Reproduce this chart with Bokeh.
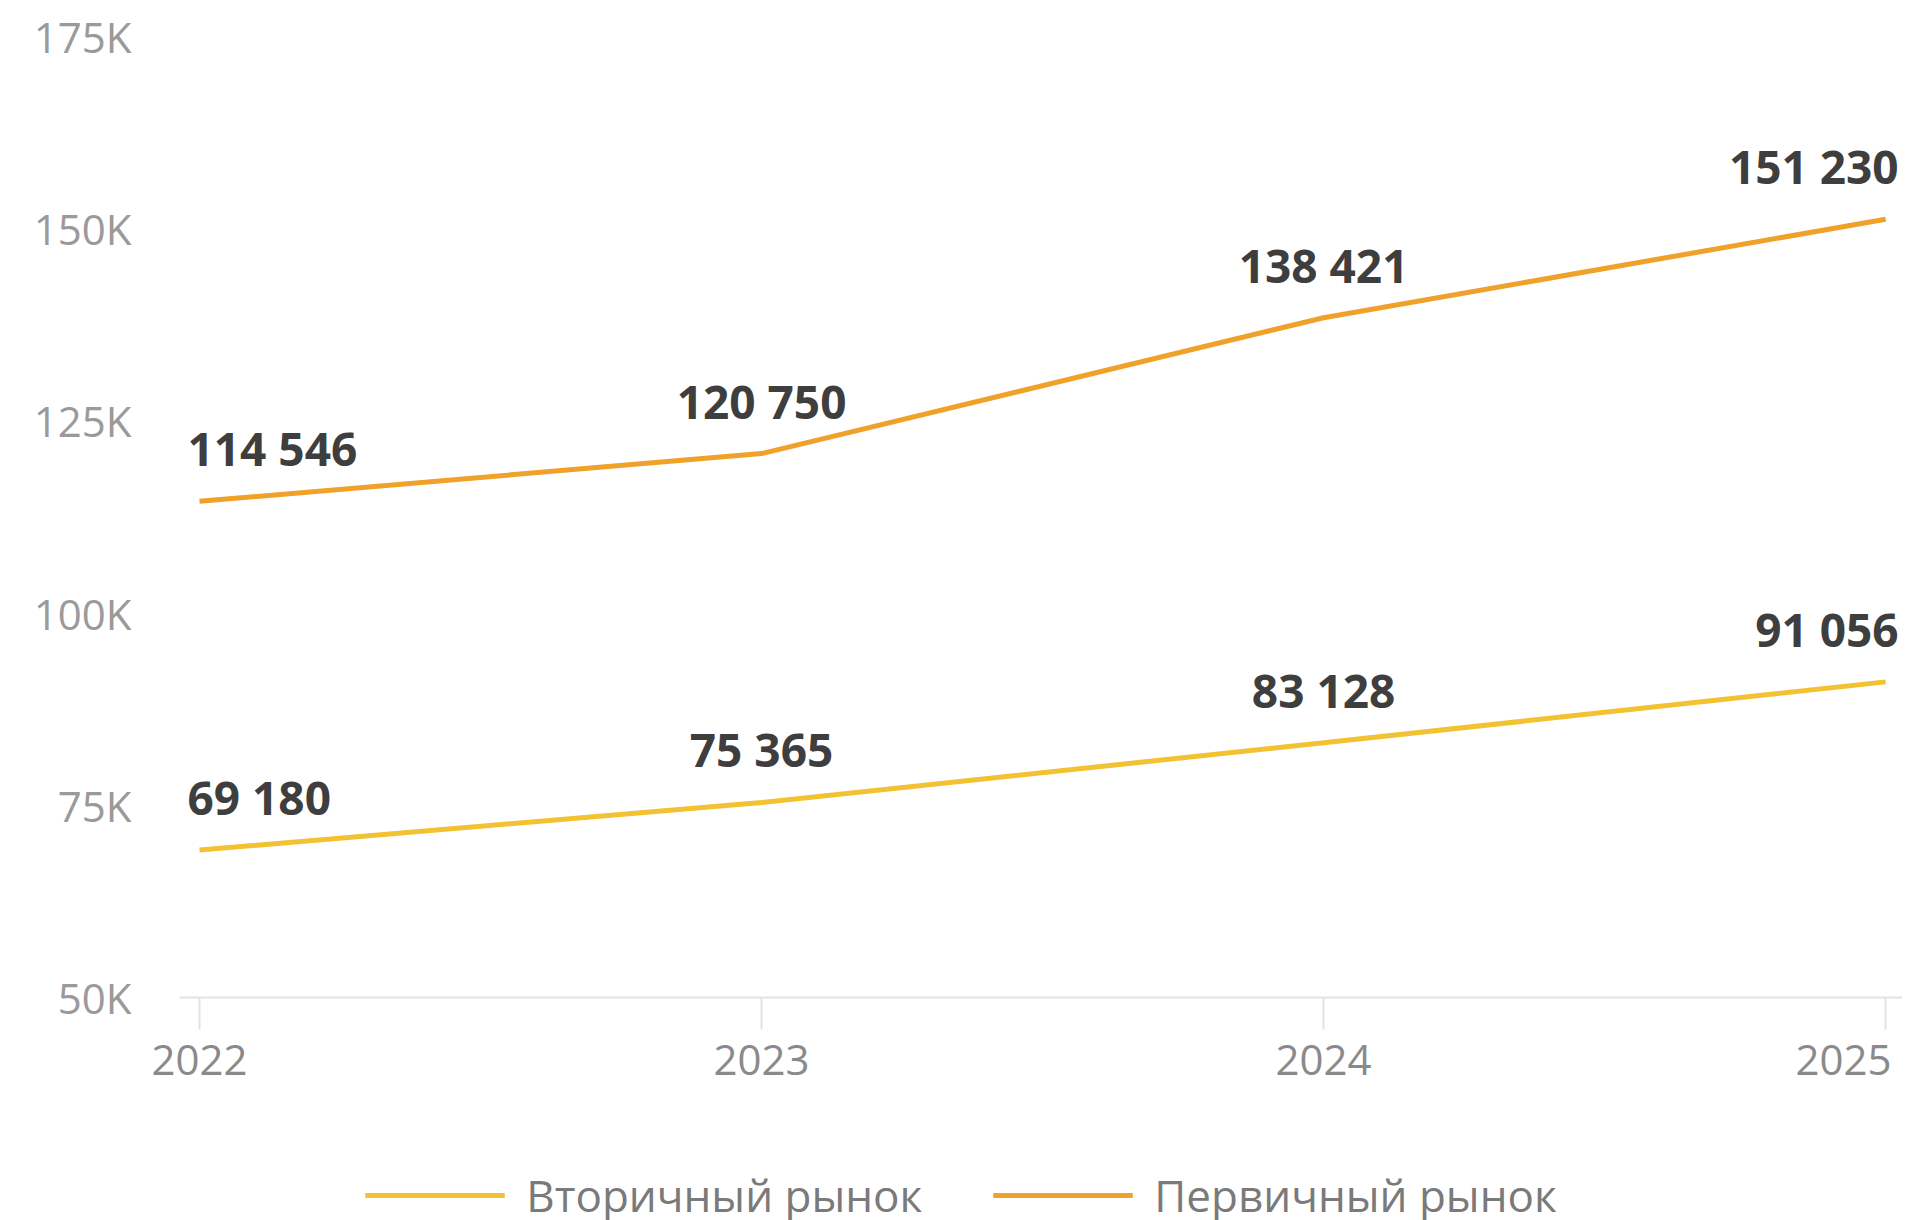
from bokeh.plotting import figure
from bokeh.layouts import column
from bokeh.models import (Range1d, Legend, LegendItem, LabelSet,
                          ColumnDataSource, FixedTicker)
from bokeh.embed import file_html
from bokeh.resources import INLINE
from bokeh.core.properties import value

# ---- data ----
years = [2022, 2023, 2024, 2025]
secondary = [69180, 75365, 83128, 91056]      # Вторичный рынок
primary = [114546, 120750, 138421, 151230]    # Первичный рынок
series_names = ["Вторичный рынок", "Первичный рынок"]
y_ticks = [50000, 75000, 100000, 125000, 150000, 175000]
y_tick_labels = ["50K", "75K", "100K", "125K", "150K", "175K"]
x_tick_labels = ["2022", "2023", "2024", "2025"]

FONT = "Open Sans"
C_SEC = "#F3C232"
C_PRI = "#EFA12A"

PAD_L = 0.0356   # range padding (years) left of first point
PAD_R = 0.030    # range padding (years) right of last point

p = figure(frame_width=1723, frame_height=961,
           min_border_left=179, min_border_right=0,
           min_border_top=36, min_border_bottom=148,
           x_range=Range1d(years[0] - PAD_L, years[-1] + PAD_R),
           y_range=Range1d(y_ticks[0], y_ticks[-1]),
           output_backend="svg", toolbar_location=None,
           background_fill_color="white", border_fill_color="white")
p.outline_line_color = None
p.grid.visible = False

# y axis
p.yaxis.ticker = FixedTicker(ticks=y_ticks)
p.yaxis.major_label_overrides = {t: l for t, l in zip(y_ticks, y_tick_labels)}
p.yaxis.axis_line_color = None
p.yaxis.major_tick_line_color = None
p.yaxis.minor_tick_line_color = None
p.yaxis.major_label_standoff = 42
p.yaxis.major_label_text_font = FONT
p.yaxis.major_label_text_font_size = "42px"
p.yaxis.major_label_text_color = "#9a9a9a"

# x axis
p.xaxis.ticker = FixedTicker(ticks=years)
overrides = {y: l for y, l in zip(years, x_tick_labels)}
# last label is nudged left so it stays inside the page
overrides[years[-1]] = x_tick_labels[-1] + "\u00a0"
p.xaxis.major_label_overrides = overrides
p.xaxis.axis_line_color = "#e3e3e3"
p.xaxis.axis_line_width = 2
p.xaxis.major_tick_line_color = "#e3e3e3"
p.xaxis.major_tick_line_width = 2
p.xaxis.major_tick_out = 32
p.xaxis.major_tick_in = 0
p.xaxis.minor_tick_line_color = None
p.xaxis.major_label_standoff = 0
p.xaxis.major_label_text_font = FONT
p.xaxis.major_label_text_font_size = "42px"
p.xaxis.major_label_text_color = "#8a8a8a"

p.line(years, secondary, line_color=C_SEC, line_width=5)
p.line(years, primary, line_color=C_PRI, line_width=5)


def fmt(v):
    return f"{v:,}".replace(",", " ")


n = len(years)
aligns = ["left"] + ["center"] * (n - 2) + ["right"]
xoffs = [-12] + [0] * (n - 2) + [13]
for vals in (secondary, primary):
    src = ColumnDataSource(dict(x=years, y=vals, t=[fmt(v) for v in vals],
                                a=aligns, xo=xoffs))
    ls = LabelSet(x="x", y="y", text="t", source=src, text_align="a", x_offset="xo",
                  y_offset=53, text_baseline="middle",
                  text_font=value(FONT), text_font_size="46px", text_font_style="bold",
                  text_color="#3e3e3e")
    p.add_layout(ls)

# ---- legend strip below the chart ----
lg = figure(width=1902, height=100, min_border=0, min_border_right=160,
            x_range=Range1d(0, 1), y_range=Range1d(0, 1),
            output_backend="svg", toolbar_location=None,
            background_fill_color="white", border_fill_color="white")
lg.outline_line_color = None
lg.axis.visible = False
lg.grid.visible = False
nan = float("nan")
k_sec = lg.line([nan], [nan], line_color=C_SEC, line_width=5)
k_pri = lg.line([nan], [nan], line_color=C_PRI, line_width=5)

legend = Legend(items=[LegendItem(label=series_names[0], renderers=[k_sec]),
                       LegendItem(label=series_names[1], renderers=[k_pri])],
                orientation="horizontal", location="center",
                glyph_width=140, glyph_height=20, label_standoff=22, spacing=70,
                label_text_font=FONT, label_text_font_size="44px",
                label_text_color="#7a7a7a", border_line_color=None,
                background_fill_alpha=0, margin=0, padding=0)
lg.add_layout(legend)

layout = column(p, lg, spacing=0)
open("out.html", "w").write(file_html(layout, INLINE))
